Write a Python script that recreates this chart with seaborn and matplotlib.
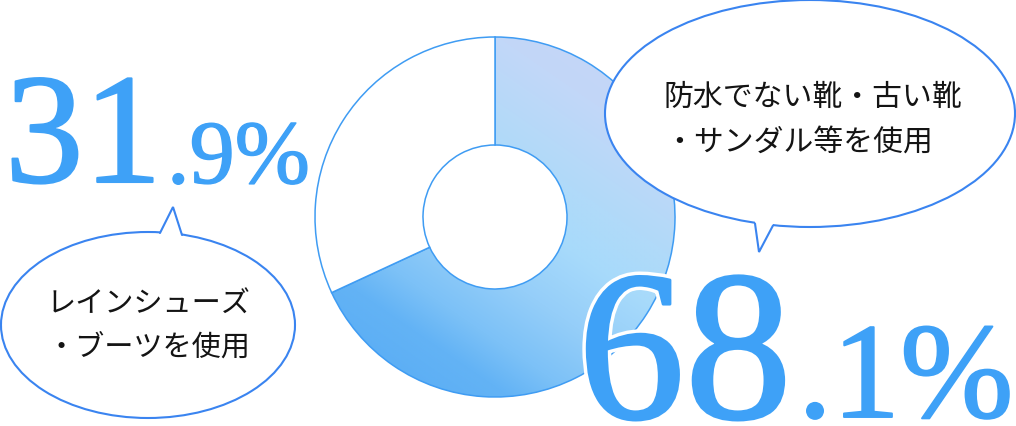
import numpy as np
import matplotlib
matplotlib.use("Agg")
import matplotlib.pyplot as plt
import matplotlib.colors as mcolors
import matplotlib.patheffects as pe
from matplotlib.patches import Ellipse, Polygon
import seaborn as sns

# ---- data ----
categories = ["防水でない靴・古い靴・サンダル等を使用", "レインシューズ・ブーツを使用"]
shares = [68.1, 31.9]
big_labels = ["68", "31"]
small_labels = [".1%", ".9%"]
bubble_lines_right = ["防水でない靴・古い靴", "・サンダル等を使用"]
bubble_lines_left = ["レインシューズ", "・ブーツを使用"]

# ---- style ----
sns.set_theme(style="white")
plt.rcParams['font.family'] = ['Noto Sans CJK JP', 'DejaVu Sans']

W, H = 1016, 427
fig = plt.figure(figsize=(W / 100, H / 100), dpi=100)
ax = fig.add_axes([0, 0, 1, 1])

DONUT_EDGE = '#3f9cf3'
BUBBLE_EDGE = '#3a84f0'
NUM = '#3ea1f7'
TXT = '#141414'

cx, cy, R, r = 495, 218, 180, 72
wedges, _ = ax.pie(shares, radius=R, center=(cx, cy), startangle=270, counterclock=True,
                   colors=['none', 'white'],
                   wedgeprops=dict(width=R - r, edgecolor=DONUT_EDGE, linewidth=1.1, zorder=2),
                   frame=True)

# gradient fill for main wedge
x0, x1, y0, y1 = cx - R, cx + R, cy - R, cy + R
xs = np.linspace(x0, x1, 400)
ys = np.linspace(y0, y1, 400)
X, Y = np.meshgrid(xs, ys)
S = X - 1.45 * Y
stops = [-200, -66, 0, 100, 205, 300, 443, 560]
cols = ['#58acf5', '#63b3f5', '#7cc1f7', '#95cef9', '#a7dafb', '#b1daf9', '#c2d7f8', '#c6d5f7']
rgb = np.array([mcolors.to_rgb(c) for c in cols])
img = np.dstack([np.interp(S, stops, rgb[:, k]) for k in range(3)])
im = ax.imshow(img, extent=(x0, x1, y1, y0), origin='upper', zorder=1, interpolation='bilinear')
im.set_clip_path(wedges[0])


def bubble(center, w, h, tail, inward, z):
    e = Ellipse(center, w, h, facecolor='white', edgecolor=BUBBLE_EDGE, lw=1.5, zorder=z)
    ax.add_patch(e)
    bl, tip, br = tail
    poly = [(bl[0], bl[1] + inward), bl, tip, br, (br[0], br[1] + inward)]
    ax.add_patch(Polygon(poly, closed=True, facecolor='white', edgecolor='none', zorder=z + 0.1))
    ax.plot([bl[0], tip[0], br[0]], [bl[1], tip[1], br[1]], color=BUBBLE_EDGE, lw=1.5,
            zorder=z + 0.2, solid_joinstyle='miter')


bubble((148, 326), 294, 186, [(160, 234), (173, 208), (182, 236)], 6, 4)
bubble((810, 114.5), 410, 227, [(755, 224.5), (759, 253), (773, 226.5)], -6, 4)

for i, line in enumerate(bubble_lines_left):
    ax.text(148, 305 + i * 43, line, ha='center', va='center', fontsize=21, color=TXT, zorder=6)
for i, line in enumerate(bubble_lines_right):
    ax.text(664, 97 + i * 45, line, ha='left', va='center', fontsize=21.5, color=TXT, zorder=6)

serif = ['Liberation Serif', 'DejaVu Serif']


def num_effects(w):
    return [pe.Stroke(linewidth=w + 5, foreground='white'),
            pe.Stroke(linewidth=w, foreground=NUM), pe.Normal()]


ax.text(5, 183, big_labels[1], fontsize=113, family=serif, color=NUM, va='baseline', ha='left',
        zorder=8, path_effects=num_effects(1.5))
ax.text(167, 184, small_labels[1], fontsize=65, family=serif, color=NUM, va='baseline', ha='left',
        zorder=8, path_effects=num_effects(1.0))
ax.text(578, 419, big_labels[0], fontsize=154, family=serif, color=NUM, va='baseline', ha='left',
        zorder=8, path_effects=num_effects(2.0))
ax.text(798, 418, small_labels[0], fontsize=98, family=serif, color=NUM, va='baseline', ha='left',
        zorder=8, path_effects=num_effects(1.4))

ax.set_xlim(0, W)
ax.set_ylim(H, 0)
ax.set_aspect('equal')
ax.axis('off')
fig.savefig('out.png', dpi=100, facecolor='white')
